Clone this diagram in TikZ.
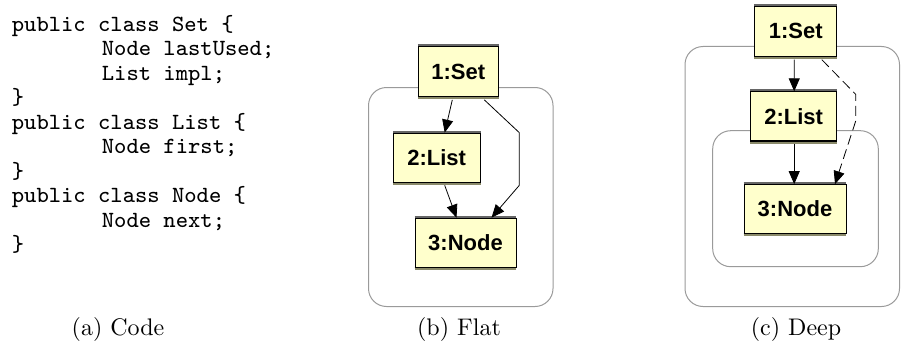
\documentclass[tikz,border=0pt]{standalone}
\usepackage{fontspec}
\newfontfamily\boxfont{Liberation Sans}[BoldFont={Liberation Sans Bold}]
\newfontfamily\codefont{lmmono8-regular}[Extension=.otf]
\newfontfamily\capfont{lmroman10-regular}[Extension=.otf]
\usetikzlibrary{arrows.meta}
\definecolor{objfill}{HTML}{FFFFCC}
\definecolor{framegray}{HTML}{9A9A9A}
\definecolor{topbar}{HTML}{666666}
\definecolor{botbar}{HTML}{8A8A6A}
\tikzset{
  obj/.style={draw=black, line width=0.7pt, fill=objfill, inner sep=0pt,
    minimum height=49pt, font=\boxfont\bfseries\fontsize{22}{24}\selectfont},
  frame/.style={draw=framegray, line width=1pt, rounded corners=18pt},
  conn/.style={draw=black, line width=0.8pt, -{Triangle[length=13pt,width=11pt]}},
  dashconn/.style={conn, dash pattern=on 10pt off 5pt},
  captext/.style={font=\capfont\fontsize{24}{28}\selectfont, anchor=base},
}
\newcommand{\decor}[1]{%
  \draw[topbar, line width=2pt] ([yshift=1pt]#1.north west) -- ([yshift=1pt]#1.north east);
  \draw[botbar, line width=2pt] ([yshift=-1.6pt]#1.south west) -- ([yshift=-1.6pt]#1.south east);
  \draw[black, line width=0.9pt] (#1.south west) -- (#1.south east);
}
\newcommand{\ind}{\hspace*{90pt}}
\begin{document}
\begin{tikzpicture}[x=1pt, y=-1pt]
\useasboundingbox (0,0) rectangle (901,345);
% (a) code
\node[anchor=north west, inner sep=0pt, align=left,
  font=\codefont\fontsize{23.2}{24.5}\selectfont] (code) at (11.7,15)
{public class Set \{\\
\ind Node lastUsed;\\
\ind List impl;\\
\}\\
public class List \{\\
\ind Node first;\\
\}\\
public class Node \{\\
\ind Node next;\\
\}};
\node[captext] (capa) at (118,335) {(a) Code};
% (b) flat
\path[frame] (368.5,87.5) rectangle (553,306.5);
\node[obj, minimum width=80pt, minimum height=50pt] (s1) at (458.3,71.5) {1:Set};
\node[obj, minimum width=87pt] (l1) at (436.7,157.5) {2:List};
\node[obj, minimum width=101pt] (n1) at (465.5,242.5) {3:Node};
\decor{s1}\decor{l1}\decor{n1}
\draw[conn] ([xshift=-6pt,yshift=-3pt]s1.south) -- ([xshift=8pt]l1.north);
\draw[conn] ([xshift=8pt,yshift=-3pt]l1.south) -- ([xshift=-9pt]n1.north);
\draw[conn] ([xshift=26pt,yshift=-3pt]s1.south) -- ([xshift=82.6pt]l1.north) -- ([xshift=82.6pt,yshift=-3pt]l1.south) -- ([xshift=26pt]n1.north);
\node[captext] (capb) at (459,335) {(b) Flat};
% (c) deep
\path[frame] (685,46.5) rectangle (899.5,306.5);
\path[frame] (712.7,130.7) rectangle (878.3,266.7);
\node[obj, minimum width=82pt, minimum height=50pt] (s2) at (795.8,31.3) {1:Set};
\node[obj, minimum width=86pt] (l2) at (793.7,116.2) {2:List};
\node[obj, minimum width=102pt] (n2) at (795,209) {3:Node};
\decor{s2}\decor{l2}\decor{n2}
\draw[conn] ([xshift=-1.5pt,yshift=-3pt]s2.south) -- ([xshift=0.5pt]l2.north);
\draw[conn] ([xshift=0.5pt,yshift=-3pt]l2.south) -- ([xshift=-0.8pt]n2.north);
\draw[dashconn] ([xshift=26pt,yshift=-3pt]s2.south) -- ([xshift=62pt,yshift=-3pt]l2.north) -- ([xshift=62pt,yshift=20pt]l2.south) -- ([xshift=40pt]n2.north);
\node[captext] (capc) at (796,335) {(c) Deep};
\end{tikzpicture}
\end{document}
